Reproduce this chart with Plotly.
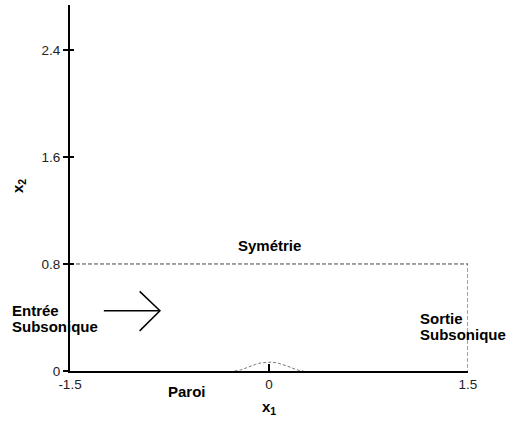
import plotly.graph_objects as go

# Data
x_ticks = [-1.5, 0, 1.5]
x_ticklabels = ["-1.5", "0", "1.5"]
y_ticks = [0, 0.8, 1.6, 2.4]
y_ticklabels = ["0", "0.8", "1.6", "2.4"]

# Domain boundary (dashed): top symmetry line + right outlet
boundary_x = [-1.5, 1.5, 1.5]
boundary_y = [0.8, 0.8, 0.0]

# Bump on the wall
bump_x = [-0.26, -0.22, -0.18, -0.14, -0.10, -0.06, -0.02, 0.0, 0.02, 0.06, 0.10, 0.14, 0.18, 0.22, 0.26]
bump_y = [0.0, 0.006, 0.020, 0.036, 0.050, 0.061, 0.066, 0.067, 0.066, 0.061, 0.050, 0.036, 0.020, 0.006, 0.0]

# Inlet arrow
arrow_shaft_x = [-1.245, -0.822]
arrow_shaft_y = [0.45, 0.45]
arrow_head_x = [-0.975, -0.822, -0.975]
arrow_head_y = [0.595, 0.45, 0.30]

fig = go.Figure()
fig.add_trace(go.Scatter(x=boundary_x, y=boundary_y, mode="lines",
                         line=dict(color="#444444", width=1, dash="4px,2px"),
                         hoverinfo="skip", showlegend=False))
fig.add_trace(go.Scatter(x=bump_x, y=bump_y, mode="lines",
                         line=dict(color="#777777", width=1, dash="3px,2px"),
                         hoverinfo="skip", showlegend=False))
fig.add_trace(go.Scatter(x=arrow_shaft_x, y=arrow_shaft_y, mode="lines",
                         line=dict(color="black", width=1.5),
                         hoverinfo="skip", showlegend=False))
fig.add_trace(go.Scatter(x=arrow_head_x, y=arrow_head_y, mode="lines",
                         line=dict(color="black", width=1.5),
                         hoverinfo="skip", showlegend=False))
# invisible trace for the inner tick axis
fig.add_trace(go.Scatter(x=[0], y=[0], yaxis="y2", mode="markers",
                         marker=dict(opacity=0), hoverinfo="skip", showlegend=False))

font_family = "Liberation Sans, Arial, sans-serif"
L, R, T, B, W, H = 70, 40, 5, 50, 508, 421
PW = W - L - R
PH = H - T - B


def px_x(px):
    return (px - L) / PW


def px_y(py):
    return (H - B - py) / PH


fig.update_layout(
    width=W, height=H,
    margin=dict(l=L, r=R, t=T, b=B, autoexpand=False),
    paper_bgcolor="white", plot_bgcolor="white",
    font=dict(family=font_family, color="black", size=13),
    xaxis=dict(range=[-1.5, 1.5], tickvals=x_ticks, ticktext=x_ticklabels,
               ticks="inside", ticklen=7, tickwidth=2, tickcolor="black",
               showline=True, linecolor="black", linewidth=2,
               showgrid=False, zeroline=False, automargin=False,
               tickfont=dict(size=13.5, family=font_family, color="#222222")),
    yaxis=dict(range=[0, 2.736], tickvals=y_ticks, ticktext=y_ticklabels,
               ticks="outside", ticklen=5, tickwidth=2, tickcolor="black",
               showline=True, linecolor="black", linewidth=2,
               showgrid=False, zeroline=False, automargin=False,
               tickfont=dict(size=13.5, family=font_family, color="#222222")),
    yaxis2=dict(range=[0, 2.736], overlaying="y", side="left", anchor="x",
                tickvals=y_ticks, showticklabels=False,
                ticks="inside", ticklen=4, tickwidth=2, tickcolor="black",
                showline=False, showgrid=False, zeroline=False, automargin=False),
)

annotations = [
    dict(x=0.5, y=px_y(246), text="<b>Symétrie</b>", xanchor="center"),
    dict(x=px_x(10), y=px_y(310), text="<b>Entrée</b>", xanchor="left"),
    dict(x=px_x(10), y=px_y(326), text="<b>Subsonique</b>", xanchor="left"),
    dict(x=px_x(418), y=px_y(318), text="<b>Sortie</b>", xanchor="left"),
    dict(x=px_x(418), y=px_y(334), text="<b>Subsonique</b>", xanchor="left"),
    dict(x=px_x(187), y=px_y(391), text="<b>Paroi</b>", xanchor="center"),
    dict(x=0.5, y=px_y(407), text="<b>x<sub>1</sub></b>", xanchor="center"),
    dict(x=px_x(18), y=px_y(186), text="<b>x<sub>2</sub></b>", textangle=-90,
         xanchor="center"),
]
for a in annotations:
    a["xref"] = "paper"
    a["yref"] = "paper"
    a["yanchor"] = "middle"
    a["showarrow"] = False
    a["font"] = dict(family=font_family, size=15, color="black")
fig.update_layout(annotations=annotations)

fig.write_html("out.html", post_script="document.body.style.margin='0';",
               config={"displayModeBar": False})
